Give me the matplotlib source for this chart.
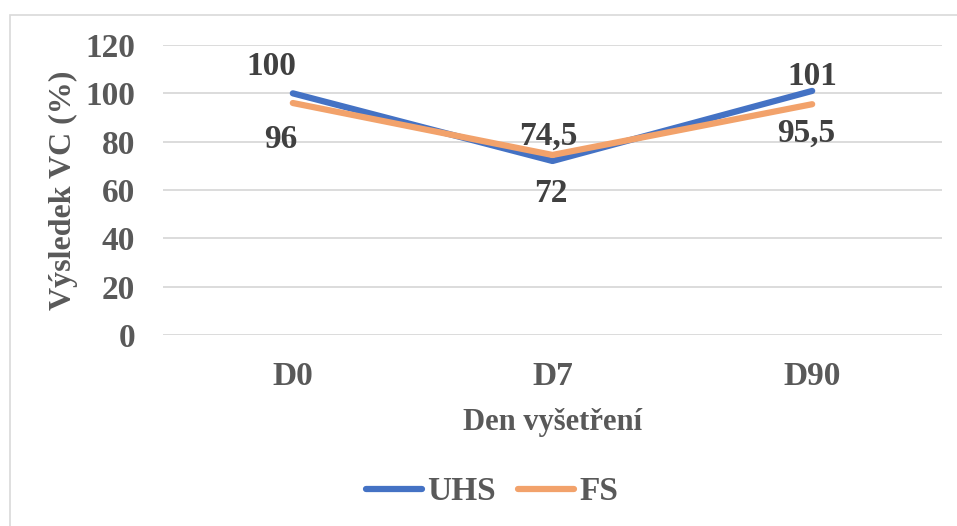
import matplotlib
matplotlib.use('Agg')
from matplotlib import pyplot as plt
from matplotlib.patches import Rectangle

days = ['D0', 'D7', 'D90']
uhs = [100, 72, 101]
fs = [96, 74.5, 95.5]
uhs_labels = ['100', '72', '101']
fs_labels = ['96', '74,5', '95,5']
yticks = [0, 20, 40, 60, 80, 100, 120]

grey = '#595959'
blue = '#4472C4'
orange = '#F2A26B'
plt.rcParams['font.family'] = ['Liberation Serif', 'DejaVu Serif']
plt.rcParams['font.weight'] = 'bold'
fsize = 24

W, H = 957, 526
fig = plt.figure(figsize=(W / 100, H / 100), dpi=100)
ax = fig.add_axes([163 / W, 1 - 335 / H, (942 - 163) / W, (335 - 45) / H])

# outer chart border (only left and top edges are visible)
fig.patches.append(Rectangle((9.5 / W, -0.1), 1.2, 1 - 14.5 / H + 0.1, transform=fig.transFigure,
                             fill=False, edgecolor='#D9D9D9', linewidth=1.2))

x = range(len(days))
ax.plot(x, uhs, color=blue, linewidth=4.5, solid_capstyle='round', label='UHS', zorder=3)
ax.plot(x, fs, color=orange, linewidth=4.5, solid_capstyle='round', label='FS', zorder=4)

# label offsets in pixels (dx, baseline dy) as placed in the original chart
uhs_off = [(-22, 18), (-2, -41), (0, 6)]
fs_off = [(-12, -45), (-4, 10), (-6, -38)]
for vals, labs, offs in ((uhs, uhs_labels, uhs_off), (fs, fs_labels, fs_off)):
    for i in x:
        ax.annotate(labs[i], (i, vals[i]), xytext=offs[i], textcoords='offset pixels',
                    ha='center', va='baseline', fontsize=fsize, fontweight='bold',
                    color='#404040', zorder=5)

ax.set_xlim(-0.5, 2.5)
ax.set_ylim(0, 120)
ax.set_yticks(yticks)
ax.set_xticks(list(x))
ax.set_xticklabels(days)
ax.grid(axis='y', color='#D9D9D9', linewidth=1.3)
ax.set_axisbelow(True)
for s in ax.spines.values():
    s.set_visible(False)
ax.tick_params(length=0, labelsize=fsize, labelcolor=grey, pad=20)
ax.tick_params(axis='x', pad=19)
for lab in ax.get_xticklabels() + ax.get_yticklabels():
    lab.set_fontweight('bold')

ax.set_xlabel('Den vyšetření', fontsize=22, fontweight='bold', color=grey, labelpad=11)
ax.set_ylabel('Výsledek VC (%)', fontsize=23, fontweight='bold', color=grey, labelpad=5)

fig.legend(loc='center', bbox_to_anchor=(492 / W, 1 - 492 / H), ncol=2, frameon=False,
           prop={'size': fsize, 'weight': 'bold'}, labelcolor=grey, handlelength=1.7,
           handletextpad=0.15, columnspacing=0.65)

fig.savefig('out.png', dpi=100)
